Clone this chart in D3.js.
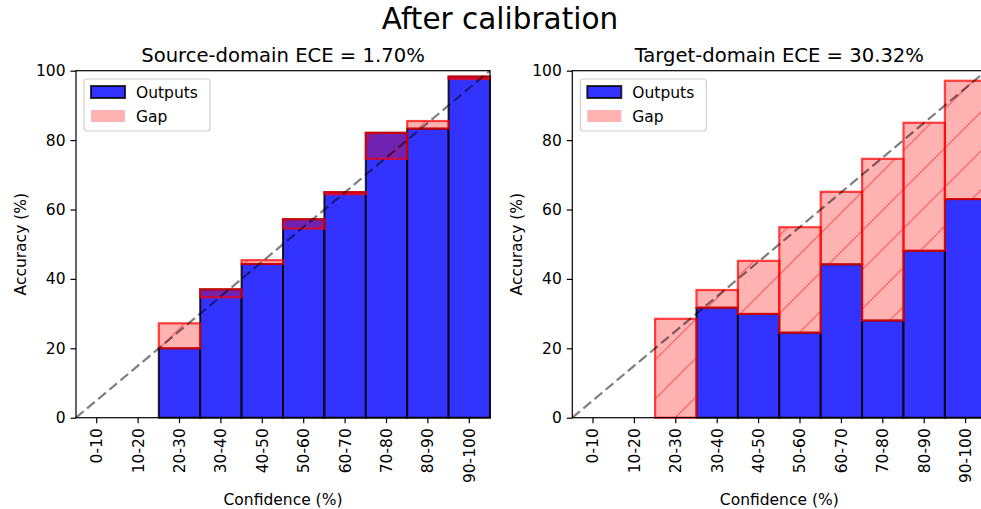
<!DOCTYPE html>
<html>
<head>
<meta charset="utf-8">
<script src="https://cdn.jsdelivr.net/npm/d3@7/dist/d3.min.js"></script>
<style>
  html, body { margin: 0; padding: 0; background: #fff; }
  svg { display: block; font-family: "DejaVu Sans", sans-serif; }
</style>
</head>
<body>
<svg id="chart" width="981" height="509"></svg>
<script>
// ---- data ----
const categories = ["0-10","10-20","20-30","30-40","40-50","50-60","60-70","70-80","80-90","90-100"];
const yTicks = [0, 20, 40, 60, 80, 100];
// Source domain: accuracy (blue bars) and mean confidence (gap top)
const srcAcc  = [null, null, 20.0, 37.0, 44.3, 57.2, 65.0, 82.1, 83.3, 98.3];
const srcConf = [null, null, 27.2, 34.7, 45.4, 54.5, 64.4, 74.6, 85.5, 97.6];
// Target domain
const tgtAcc  = [null, null, 0.0, 31.7, 29.9, 24.5, 44.2, 28.0, 48.1, 63.0];
const tgtConf = [null, null, 28.5, 36.8, 45.2, 54.9, 65.1, 74.6, 85.0, 97.1];
const panelTitles = ["Source-domain ECE = 1.70%", "Target-domain ECE = 30.32%"];
const suptitle = "After calibration";

const svg = d3.select("#chart");
const defs = svg.append("defs");
const P = 39;
const pat = defs.append("pattern").attr("id", "hatch")
  .attr("patternUnits", "userSpaceOnUse").attr("width", P).attr("height", P)
  .attr("x", 1).attr("y", 0);
pat.append("path")
  .attr("d", `M0,${P} L${P},0 M-5,5 L5,-5 M${P-5},${P+5} L${P+5},${P-5}`)
  .attr("stroke", "rgba(255,0,0,0.5)").attr("stroke-width", 1.1).attr("fill", "none");

svg.append("text").attr("x", 500).attr("y", 29).attr("text-anchor", "middle")
  .attr("font-size", 29.5).attr("fill", "#000").text(suptitle);

const panels = [
  {x0: 76, acc: srcAcc, conf: srcConf, title: panelTitles[0]},
  {x0: 572.3, acc: tgtAcc, conf: tgtConf, title: panelTitles[1]}
];
const W = 414, yTop = 70.7, yBot = 417.7;

panels.forEach(p => {
  const g = svg.append("g");
  const x = d3.scaleBand().domain(categories).range([p.x0, p.x0 + W]).padding(0);
  const xl = d3.scaleLinear().domain([0, 100]).range([p.x0, p.x0 + W]);
  const y = d3.scaleLinear().domain([0, 100]).range([yBot, yTop]);
  const data = categories.map((c, i) => ({c, acc: p.acc[i], conf: p.conf[i]})).filter(d => d.acc !== null);

  // output bars
  g.selectAll("rect.out").data(data).join("rect").attr("class", "out")
    .attr("x", d => x(d.c)).attr("width", x.bandwidth())
    .attr("y", d => y(d.acc)).attr("height", d => y(0) - y(d.acc))
    .attr("fill", "#3333ff").attr("stroke", "rgba(0,0,0,0.85)").attr("stroke-width", 2);

  // gap bars
  const gap = g.selectAll("g.gap").data(data).join("g").attr("class", "gap");
  const gy = d => y(Math.max(d.acc, d.conf));
  const gh = d => Math.abs(y(d.acc) - y(d.conf));
  gap.append("rect")
    .attr("x", d => x(d.c)).attr("width", x.bandwidth())
    .attr("y", gy).attr("height", gh)
    .attr("fill", "rgba(255,0,0,0.3)");
  gap.append("rect")
    .attr("x", d => x(d.c)).attr("width", x.bandwidth())
    .attr("y", gy).attr("height", gh)
    .attr("fill", "url(#hatch)");
  gap.append("rect")
    .attr("x", d => x(d.c)).attr("width", x.bandwidth())
    .attr("y", gy).attr("height", gh)
    .attr("fill", "none").attr("stroke", "rgba(255,0,0,0.72)").attr("stroke-width", 2.2);

  // diagonal
  g.append("line")
    .attr("x1", xl(0)).attr("y1", y(0)).attr("x2", xl(100)).attr("y2", y(100))
    .attr("stroke", "rgba(0,0,0,0.5)").attr("stroke-width", 2.2)
    .attr("stroke-dasharray", "10,4.5");

  // frame
  g.append("rect").attr("x", p.x0).attr("y", yTop).attr("width", W).attr("height", yBot - yTop)
    .attr("fill", "none").attr("stroke", "#000").attr("stroke-width", 1.2);

  // axes
  const ya = g.append("g").attr("transform", `translate(${p.x0},0)`)
    .call(d3.axisLeft(y).tickValues(yTicks).tickSize(5.5).tickPadding(5));
  ya.select(".domain").remove();
  ya.selectAll("text").attr("font-size", 15.5).attr("fill", "#000").attr("font-family", "DejaVu Sans");
  ya.selectAll("line").attr("stroke-width", 1.2);

  const xa = g.append("g").attr("transform", `translate(0,${yBot})`)
    .call(d3.axisBottom(x).tickSize(5.5).tickPadding(5));
  xa.select(".domain").remove();
  xa.selectAll("line").attr("stroke-width", 1.2);
  xa.selectAll("text").attr("font-size", 15.5).attr("fill", "#000").attr("font-family", "DejaVu Sans")
    .attr("transform", "rotate(-90)").attr("text-anchor", "end")
    .attr("x", -10.5).attr("y", 0).attr("dy", "0.35em");

  // titles & labels
  const cx = p.x0 + W / 2;
  g.append("text").attr("x", cx).attr("y", 62).attr("text-anchor", "middle")
    .attr("font-size", 19.6).text(p.title);
  g.append("text").attr("x", cx).attr("y", 505).attr("text-anchor", "middle")
    .attr("font-size", 15.5).text("Confidence (%)");
  g.append("text").attr("transform", `translate(${p.x0 - 50},${(yTop + yBot) / 2}) rotate(-90)`)
    .attr("text-anchor", "middle").attr("font-size", 15.5).text("Accuracy (%)");

  // legend
  const lx = p.x0 + 8, ly = 79;
  const lg = g.append("g");
  lg.append("rect").attr("x", lx).attr("y", ly).attr("width", 126).attr("height", 52)
    .attr("rx", 3).attr("fill", "rgba(255,255,255,0.8)").attr("stroke", "#d0d0d0").attr("stroke-width", 1.2);
  lg.append("rect").attr("x", lx + 7).attr("y", ly + 7).attr("width", 34).attr("height", 12)
    .attr("fill", "#3333ff").attr("stroke", "rgba(0,0,0,0.8)").attr("stroke-width", 2);
  lg.append("rect").attr("x", lx + 7).attr("y", ly + 31).attr("width", 34).attr("height", 12)
    .attr("fill", "rgba(255,0,0,0.3)");
  lg.append("text").attr("x", lx + 52).attr("y", ly + 19).attr("font-size", 15.5).text("Outputs");
  lg.append("text").attr("x", lx + 52).attr("y", ly + 43).attr("font-size", 15.5).text("Gap");
});
</script>
</body>
</html>
